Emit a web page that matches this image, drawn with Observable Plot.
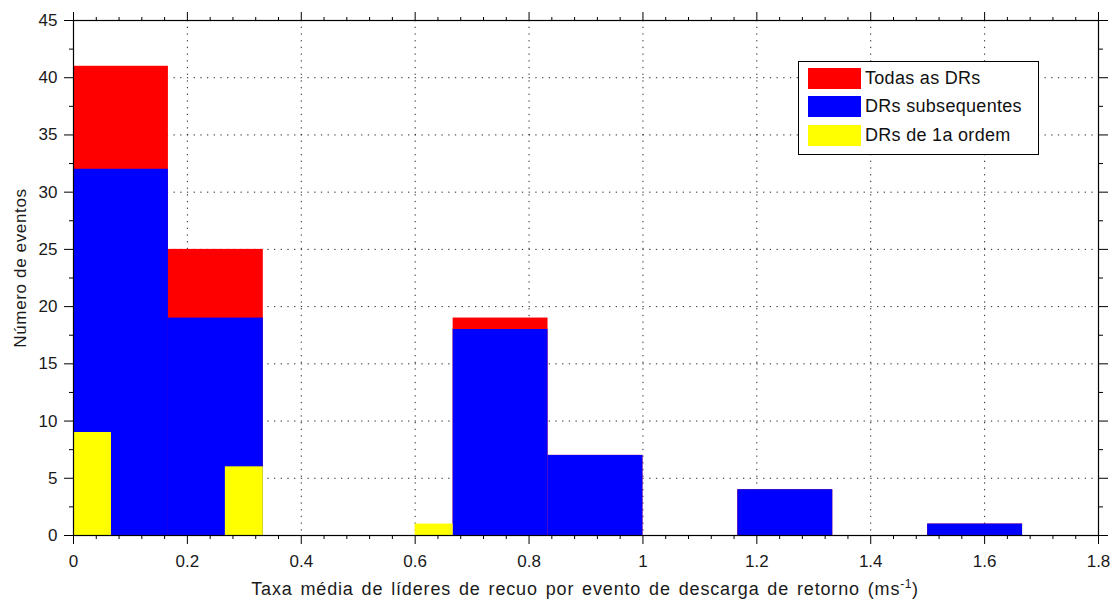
<!DOCTYPE html>
<html>
<head>
<meta charset="utf-8">
<script src="https://cdn.jsdelivr.net/npm/d3@7"></script>
<script src="https://cdn.jsdelivr.net/npm/@observablehq/plot@0.6"></script>
<style>
  body { margin: 0; background: #fff; }
  #wrap { position: relative; width: 1112px; height: 600px; font-family: "Liberation Sans", Arial, sans-serif; }
  #legend { position: absolute; left: 798px; top: 61px; width: 241px; height: 94px; border: 1px solid #000; background: #fff; box-sizing: border-box; }
  .row { position: absolute; left: 9px; height: 21px; display: flex; align-items: center; }
  .sw { width: 53px; height: 21px; margin-right: 4px; }
  .lt { font-size: 18px; letter-spacing: 0.3px; color: #111; white-space: nowrap; }
</style>
</head>
<body>
<div id="wrap"></div>
<script>
// Histogram bins (ms^-1) – wide bins
const binStart = [0, 0.16667, 0.66667, 0.83333, 1.16667, 1.5];
const binEnd   = [0.16667, 0.33333, 0.83333, 1.0, 1.33333, 1.66667];
const todasDRs      = [41, 25, 19, 7, 4, 1];
const subsequentes  = [32, 19, 18, 7, 4, 1];
// narrow bins for first-order DRs
const firstStart = [0, 0.26667, 0.6];
const firstEnd   = [0.06667, 0.33333, 0.66667];
const primeiraOrdem = [9, 6, 1];

const seriesNames = ["Todas as DRs", "DRs subsequentes", "DRs de 1a ordem"];
const seriesColors = ["#ff0000", "#0000ff", "#ffff00"];

const xTicks = [0, 0.2, 0.4, 0.6, 0.8, 1.0, 1.2, 1.4, 1.6, 1.8];
const yTicks = [0, 5, 10, 15, 20, 25, 30, 35, 40, 45];
const xMinor = d3.range(0, 1.8001, 0.04).filter(v => Math.abs(v / 0.2 - Math.round(v / 0.2)) > 1e-6);
const yMinor = d3.range(2.5, 45, 5);

const wide = binStart.map((s, i) => ({x1: s, x2: binEnd[i], total: todasDRs[i], sub: subsequentes[i]}));
const narrow = firstStart.map((s, i) => ({x1: s, x2: firstEnd[i], n: primeiraOrdem[i]}));

const fmt = d => String(+d.toFixed(1));
const axisCol = "#000";
const textCol = "#1a1a1a";

const chart = Plot.plot({
  width: 1112,
  height: 600,
  marginLeft: 73,
  marginRight: 14,
  marginTop: 20,
  marginBottom: 65,
  style: {fontFamily: "'Liberation Sans', Arial, sans-serif", fontSize: "17px", color: textCol, background: "#fff", overflow: "visible"},
  x: {domain: [0, 1.8]},
  y: {domain: [0, 45]},
  marks: [
    Plot.gridX(xTicks.slice(1, -1), {stroke: "#000", strokeOpacity: 0.85, strokeDasharray: "1.3,5.4"}),
    Plot.gridY(yTicks.slice(1, -1), {stroke: "#000", strokeOpacity: 0.85, strokeDasharray: "1.3,5.4"}),
    Plot.rectY(wide, {x1: "x1", x2: "x2", y: "total", fill: seriesColors[0], inset: 0}),
    Plot.rectY(wide, {x1: "x1", x2: "x2", y: "sub", fill: seriesColors[1], inset: 0}),
    Plot.rectY(narrow, {x1: "x1", x2: "x2", y: "n", fill: seriesColors[2], inset: 0}),
    // bottom
    Plot.axisX(xTicks, {anchor: "bottom", tickSize: 9, tickPadding: 10, tickFormat: fmt, label: null, stroke: axisCol, fill: textCol}),
    Plot.axisX(xMinor, {anchor: "bottom", tickSize: 4, tickFormat: () => "", label: null, stroke: axisCol}),
    // top
    Plot.axisX(xTicks, {anchor: "top", tickSize: 9, tickFormat: () => "", label: null, stroke: axisCol}),
    Plot.axisX(xMinor, {anchor: "top", tickSize: 4, tickFormat: () => "", label: null, stroke: axisCol}),
    // left
    Plot.axisY(yTicks, {anchor: "left", tickSize: 9, tickPadding: 7, tickFormat: d => String(d), label: null, stroke: axisCol, fill: textCol}),
    Plot.axisY(yMinor, {anchor: "left", tickSize: 4, tickFormat: () => "", label: null, stroke: axisCol}),
    // right
    Plot.axisY(yTicks, {anchor: "right", tickSize: 9, tickFormat: () => "", label: null, stroke: axisCol}),
    Plot.axisY(yMinor, {anchor: "right", tickSize: 4, tickFormat: () => "", label: null, stroke: axisCol}),
    Plot.frame({stroke: axisCol, strokeWidth: 1.2})
  ]
});

const wrap = document.getElementById("wrap");
wrap.appendChild(chart);

// Axis titles
const svg = d3.select(chart.tagName.toLowerCase() === "svg" ? chart : chart.querySelector("svg"));
const xl = svg.append("text")
  .attr("x", 585).attr("y", 595)
  .attr("text-anchor", "middle")
  .attr("fill", textCol)
  .style("font-size", "18px")
  .style("letter-spacing", "0.85px")
  .style("word-spacing", "2px");
xl.append("tspan").text("Taxa média de líderes de recuo por evento de descarga de retorno (ms");
xl.append("tspan").attr("dy", "-7").style("font-size", "12px").style("letter-spacing", "0.5px").text("-1");
xl.append("tspan").attr("dy", "7").text(")");

svg.append("text")
  .attr("transform", "translate(26,268) rotate(-90)")
  .attr("text-anchor", "middle")
  .attr("fill", textCol)
  .style("font-size", "17px")
  .style("letter-spacing", "0.65px")
  .text("Número de eventos");

// Legend
const leg = document.createElement("div");
leg.id = "legend";
const tops = [6, 34, 63];
seriesNames.forEach((name, i) => {
  const r = document.createElement("div");
  r.className = "row";
  r.style.top = tops[i] + "px";
  const sw = document.createElement("div");
  sw.className = "sw";
  sw.style.background = seriesColors[i];
  const t = document.createElement("span");
  t.className = "lt";
  t.textContent = name;
  r.appendChild(sw); r.appendChild(t);
  leg.appendChild(r);
});
wrap.appendChild(leg);
</script>
</body>
</html>
